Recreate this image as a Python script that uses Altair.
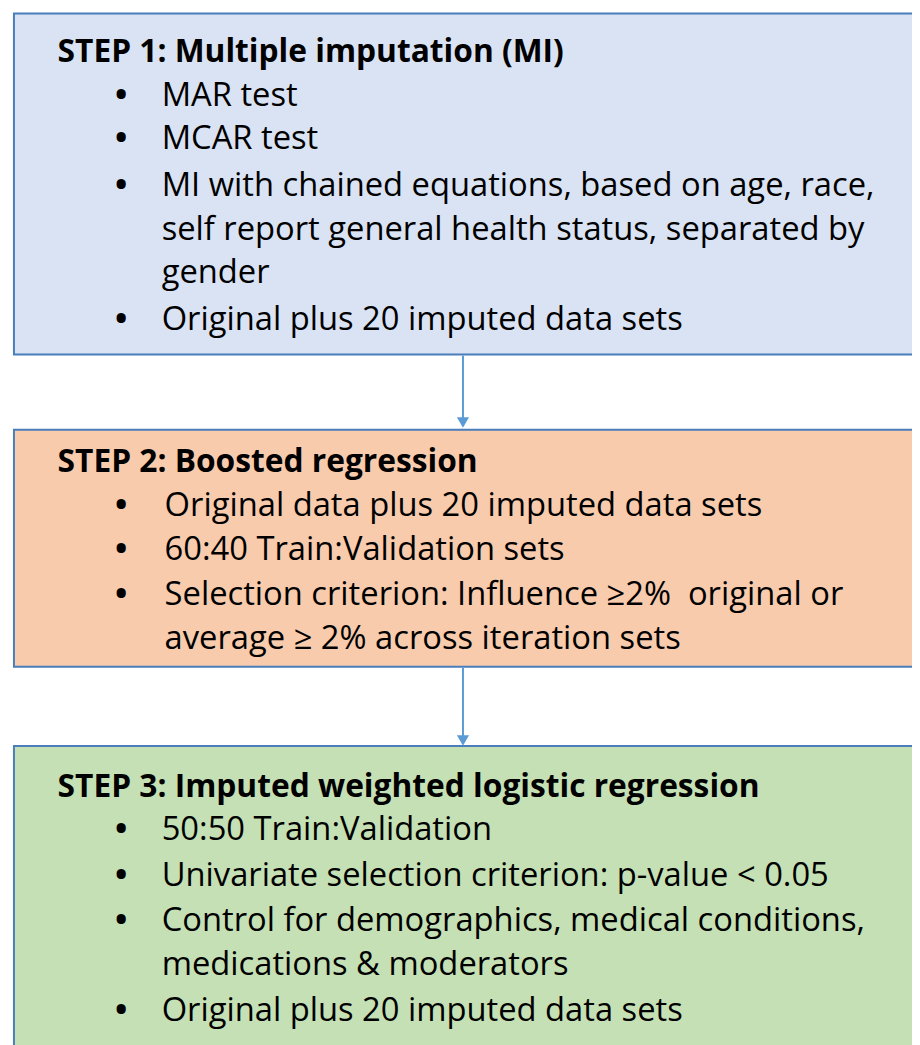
import altair as alt
import pandas as pd

# ---- layout of the three step boxes (page pixel units) ----
box_names = ["STEP 1", "STEP 2", "STEP 3"]
box_top = [9, 429, 748]
box_bottom = [353, 668, 1070]
box_left = [14, 14, 14]
box_right = [940, 940, 940]
box_fill = ["#DAE3F3", "#F8CBAD", "#C5E0B4"]

# ---- titles ----
titles = [
    "STEP 1: Multiple imputation (MI)",
    "STEP 2: Boosted regression",
    "STEP 3: Imputed weighted logistic regression",
]
title_y = [47, 461, 788]

# ---- body lines: text, line y, has bullet ----
line_text = [
    "MAR test",
    "MCAR test",
    "MI with chained equations, based on age, race,",
    "self report general health status, separated by",
    "gender",
    "Original plus 20 imputed data sets",
    "Original data plus 20 imputed data sets",
    "60:40 Train:Validation sets",
    "Selection criterion: Influence \u22652%\u00a0 original or",
    "average \u2265 2% across iteration sets",
    "50:50 Train:Validation",
    "Univariate selection criterion: p-value < 0.05",
    "Control for demographics, medical conditions,",
    "medications & moderators",
    "Original plus 20 imputed data sets",
]
line_y = [91, 135, 182, 226, 270, 317, 505, 549, 595, 639, 832, 878, 924, 968, 1014]
line_bullet = [1, 1, 1, 0, 0, 1, 1, 1, 1, 0, 1, 1, 1, 0, 1]
line_x = [163] * 6 + [166] * 4 + [163] * 5

# ---- connectors between boxes ----
arrow_x = [467, 467]
arrow_y1 = [354, 669]
arrow_y2 = [417, 738]
arrow_head_y = [421.5, 742.5]

FONT = "Open Sans"
FS = 33
FS_TITLE = 32
TITLE_X = 58
BULLET_X = 116
DY = 1

xs = alt.Scale(domain=[8, 920], range=[0, 912])
ys = alt.Scale(domain=[8, 1045], range=[0, 1037])

boxes = pd.DataFrame({
    "name": box_names, "x": box_left, "x2": box_right,
    "y": box_top, "y2": box_bottom, "fill": box_fill,
})
rects = alt.Chart(boxes).mark_rect(stroke="#4A7EBB", strokeWidth=2).encode(
    x=alt.X("x:Q", scale=xs, axis=None),
    x2="x2:Q",
    y=alt.Y("y:Q", scale=ys, axis=None),
    y2="y2:Q",
    fill=alt.Fill("fill:N", scale=None),
)

tdf = pd.DataFrame({"t": titles, "y": title_y, "x": [TITLE_X] * 3})
title_marks = alt.Chart(tdf).mark_text(
    align="left", baseline="middle", font=FONT, fontSize=FS_TITLE, fontWeight="bold",
    color="#000000", dy=DY
).encode(x=alt.X("x:Q", scale=xs, axis=None), y=alt.Y("y:Q", scale=ys, axis=None), text="t:N")

ldf = pd.DataFrame({"t": line_text, "y": line_y, "x": line_x, "b": line_bullet})
line_marks = alt.Chart(ldf).mark_text(
    align="left", baseline="middle", font=FONT, fontSize=FS, color="#000000", dy=DY
).encode(x=alt.X("x:Q", scale=xs, axis=None), y=alt.Y("y:Q", scale=ys, axis=None), text="t:N")

bdf = ldf[ldf["b"] == 1].copy()
bdf["bx"] = BULLET_X
bdf["bt"] = "\u2022"
bullet_marks = alt.Chart(bdf).mark_text(
    align="left", baseline="middle", font=FONT, fontSize=FS, fontWeight="bold",
    color="#000000", dy=DY
).encode(x=alt.X("bx:Q", scale=xs, axis=None), y=alt.Y("y:Q", scale=ys, axis=None), text="bt:N")

adf = pd.DataFrame({"x": arrow_x, "y": arrow_y1, "y2": arrow_y2, "hy": arrow_head_y})
arrow_lines = alt.Chart(adf).mark_rule(color="#5B9BD5", strokeWidth=2).encode(
    x=alt.X("x:Q", scale=xs, axis=None), y=alt.Y("y:Q", scale=ys, axis=None), y2="y2:Q"
)
arrow_heads = alt.Chart(adf).mark_point(
    shape="triangle-down", filled=True, color="#5B9BD5", opacity=1, size=150
).encode(x=alt.X("x:Q", scale=xs, axis=None), y=alt.Y("hy:Q", scale=ys, axis=None))

chart = alt.layer(rects, arrow_lines, arrow_heads, title_marks, bullet_marks, line_marks).properties(
    width=912, height=1037, autosize=alt.AutoSizeParams(type="none"), padding=0,
    background="#FFFFFF",
).configure_view(stroke=None)

chart.save("out.html", embed_options={"renderer": "svg", "actions": False})
